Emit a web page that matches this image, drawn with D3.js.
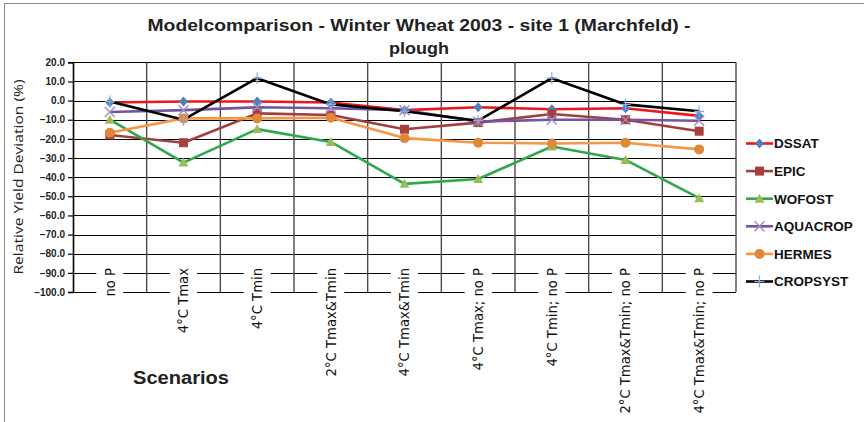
<!DOCTYPE html>
<html>
<head>
<meta charset="utf-8">
<script src="https://cdn.jsdelivr.net/npm/d3@7"></script>
<style>
  body { margin: 0; background: #fff; }
  svg { display: block; }
</style>
</head>
<body>
<div id="chart"></div>
<script>
const scenarios = ['no P', '4°C Tmax', '4°C Tmin', '2°C Tmax&Tmin', '4°C Tmax&Tmin',
  '4°C Tmax; no P', '4°C Tmin; no P', '2°C Tmax&Tmin; no P', '4°C Tmax&Tmin; no P'];

const dssat    = [-1, -0.5, -0.5, -1, -5, -3.5, -4.5, -4, -8];
const epic     = [-18, -22, -6.7, -7.5, -15, -11.5, -7, -10, -16];
const wofost   = [-10, -32.4, -14.9, -21.6, -43.5, -41, -24, -31, -51];
const aquacrop = [-6, -5, -3.5, -4, -5, -11, -10, -10, -10.5];
const hermes   = [-16.8, -9.3, -9.3, -9, -19.6, -22, -22.4, -22, -25.5];
const cropsyst = [-0.5, -10, 11.7, -2, -5.6, -10.5, 11.7, -2, -5.6];

const yTicks = d3.range(-100, 21, 10);

const series = [
  {name: 'DSSAT', values: dssat, line: '#f0141c', marker: 'diamond', fill: '#4f81bd'},
  {name: 'EPIC', values: epic, line: '#a0403e', marker: 'square', fill: '#a5403e'},
  {name: 'WOFOST', values: wofost, line: '#2ea84a', marker: 'triangle', fill: '#9bbb59'},
  {name: 'AQUACROP', values: aquacrop, line: '#7454a2', marker: 'x', fill: '#9c8cc8'},
  {name: 'HERMES', values: hermes, line: '#f79646', marker: 'circle', fill: '#e0883a'},
  {name: 'CROPSYST', values: cropsyst, line: '#000', marker: 'plus', fill: '#8eaadb'},
];

const W = 864, H = 422;
const plot = {l: 73, r: 736, t: 62.3, b: 292};

const svg = d3.select('#chart').append('svg').attr('width', W).attr('height', H);

// chart border
svg.append('rect').attr('x', 4.5).attr('y', 3.5).attr('width', 880).attr('height', 440)
  .attr('fill', 'none').attr('stroke', '#8c8c8c').attr('stroke-width', 1);

const x = d3.scaleBand().domain(scenarios).range([plot.l, plot.r]);
const y = d3.scaleLinear().domain([-100, 20]).range([plot.b, plot.t]);
const cx = d => x(d) + x.bandwidth() / 2;

// horizontal grid
svg.append('g').selectAll('line').data(yTicks).join('line')
  .attr('x1', plot.l).attr('x2', plot.r)
  .attr('y1', d => Math.round(y(d)) + 0.5).attr('y2', d => Math.round(y(d)) + 0.5)
  .attr('stroke', '#000').attr('stroke-width', 1);

// vertical grid at category boundaries
svg.append('g').selectAll('line').data(scenarios).join('line')
  .attr('x1', d => x(d) + x.bandwidth()).attr('x2', d => x(d) + x.bandwidth())
  .attr('y1', plot.t).attr('y2', plot.b)
  .attr('stroke', '#504848').attr('stroke-width', 1.4);

// y axis
const yAxis = d3.axisLeft(y).tickValues(yTicks).tickSize(5).tickFormat(d3.format('.1f'));
const ya = svg.append('g').attr('transform', `translate(${plot.l},0)`).call(yAxis);
ya.select('.domain').attr('stroke', '#000').attr('stroke-width', 1.6);
ya.selectAll('.tick line').attr('stroke', '#000').attr('stroke-width', 1.2);
ya.selectAll('.tick text').attr('font-family', 'Liberation Sans, Arial, sans-serif')
  .attr('font-size', 10).attr('font-weight', 'bold').attr('fill', '#222').attr('x', -8);

// x labels with white boxes
const xl = svg.append('g').selectAll('g').data(scenarios).join('g')
  .attr('transform', d => `translate(${cx(d)},268) rotate(-90)`);
xl.append('text')
  .attr('text-anchor', 'end').attr('dy', '0.36em')
  .attr('font-family', 'DejaVu Sans, sans-serif').attr('font-size', 13.2)
  .attr('fill', '#111').text(d => d);
xl.each(function() {
  const g = d3.select(this);
  const bb = g.select('text').node().getBBox();
  g.insert('rect', 'text').attr('x', bb.x - 2).attr('y', -13.5)
    .attr('width', bb.width + 2).attr('height', 27).attr('fill', '#fff');
});

// lines
const line = d3.line().x((d, i) => cx(scenarios[i])).y(d => y(d));
svg.append('g').selectAll('path').data(series).join('path')
  .attr('d', s => line(s.values)).attr('fill', 'none')
  .attr('stroke', s => s.line).attr('stroke-width', 2.6).attr('stroke-linejoin', 'round');

function drawMarker(g, type, fill) {
  if (type === 'diamond') g.append('path').attr('d', 'M0,-5L4.5,0L0,5L-4.5,0Z').attr('fill', fill);
  else if (type === 'square') g.append('rect').attr('x', -4.5).attr('y', -4.5).attr('width', 9).attr('height', 9).attr('fill', fill);
  else if (type === 'triangle') g.append('path').attr('d', 'M0,-5L5,4L-5,4Z').attr('fill', fill);
  else if (type === 'circle') g.append('circle').attr('r', 5).attr('fill', fill);
  else if (type === 'x') g.append('path').attr('d', 'M-5,-5L5,5M-5,5L5,-5').attr('stroke', fill).attr('stroke-width', 1.4);
  else if (type === 'plus') g.append('path').attr('d', 'M-5,0L5,0M0,-6L0,6').attr('stroke', fill).attr('stroke-width', 1.2);
}

// markers
series.forEach(s => {
  svg.append('g').selectAll('g').data(s.values).join('g')
    .attr('transform', (d, i) => `translate(${cx(scenarios[i])},${y(d)})`)
    .each(function() { drawMarker(d3.select(this), s.marker, s.fill); });
});

// legend
const lg = svg.append('g').selectAll('g').data(series).join('g')
  .attr('transform', (d, i) => `translate(746,${143.5 + i * 27.6})`);
lg.append('line').attr('x1', 0).attr('x2', 27).attr('stroke', d => d.line).attr('stroke-width', 2.6);
lg.append('g').attr('transform', 'translate(13.5,0)').each(function(d) { drawMarker(d3.select(this), d.marker, d.fill); });
lg.append('text').attr('x', 28).attr('dy', '0.36em')
  .attr('font-family', 'Liberation Sans, Arial, sans-serif').attr('font-size', 13.5)
  .attr('font-weight', 'bold').attr('fill', '#111').text(d => d.name);

// titles
const title = svg.append('g').attr('font-family', 'Liberation Sans, Arial, sans-serif')
  .attr('font-weight', 'bold').attr('fill', '#222').attr('text-anchor', 'middle');
title.append('text').attr('x', 419).attr('y', 31).attr('font-size', 17)
  .attr('textLength', 543).attr('lengthAdjust', 'spacingAndGlyphs')
  .text('Modelcomparison - Winter Wheat 2003 - site 1 (Marchfeld) -');
title.append('text').attr('x', 419).attr('y', 54).attr('font-size', 17)
  .attr('textLength', 60).attr('lengthAdjust', 'spacingAndGlyphs').text('plough');

svg.append('text').attr('x', 181).attr('y', 384).attr('text-anchor', 'middle')
  .attr('font-family', 'Liberation Sans, Arial, sans-serif').attr('font-size', 18)
  .attr('font-weight', 'bold').attr('fill', '#222')
  .attr('textLength', 96).attr('lengthAdjust', 'spacingAndGlyphs').text('Scenarios');

svg.append('text').attr('transform', 'translate(23,177) rotate(-90)').attr('text-anchor', 'middle')
  .attr('font-family', 'Open Sans, sans-serif').attr('font-size', 13.5).attr('fill', '#222')
  .attr('textLength', 195).attr('lengthAdjust', 'spacingAndGlyphs')
  .text('Relative Yield Deviation (%)');
</script>
</body>
</html>
